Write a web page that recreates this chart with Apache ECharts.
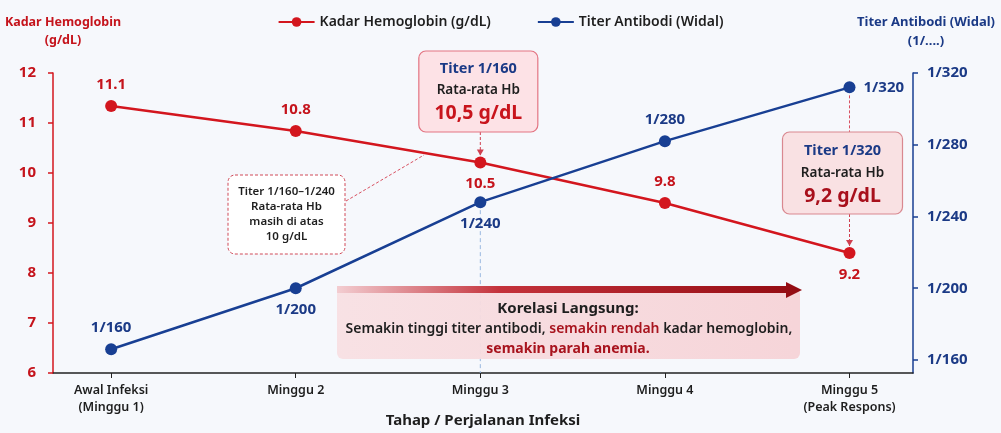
<!DOCTYPE html>
<html><head><meta charset="utf-8">
<script src="https://cdn.jsdelivr.net/npm/echarts@6/dist/echarts.min.js"></script>
<style>html,body{margin:0;padding:0;background:#f6f8fc}#c{width:1001px;height:433px}</style>
</head><body><div id="c"></div>
<script>
// ---- data ----
const categories = ['Awal Infeksi\n(Minggu 1)', 'Minggu 2', 'Minggu 3', 'Minggu 4', 'Minggu 5\n(Peak Respons)'];
const hbValues = [11.34, 10.84, 10.21, 9.40, 8.40];
const hbLabels = ['11.1', '10.8', '10.5', '9.8', '9.2'];
const titerValues = [166, 200, 248, 282, 312];
const titerLabels = ['1/160', '1/200', '1/240', '1/280', '1/320'];
const titerTicks = [160, 200, 240, 280, 320];
const titerTickLabels = ['1/160', '1/200', '1/240', '1/280', '1/320'];
const catTicks = [0, 1, 2, 3, 4];

const FONT = '"Noto Sans", "DejaVu Sans", sans-serif';
const RED = '#d3161e', RED_T = '#c5141c', NAVY = '#183f93', NAVY_T = '#1b3a86', DARK = '#1e1e1e';

const hbLabelPos = ['top', 'top', 'bottom', 'top', 'bottom'];
const tiLabelPos = ['top', 'bottom', 'bottom', 'top', 'right'];

const chart = echarts.init(document.getElementById('c'), null, {renderer: 'canvas'});
const option = {
  backgroundColor: '#f6f8fc',
  animation: false,
  textStyle: {fontFamily: FONT},
  legend: {
    top: 10, left: 'center', itemWidth: 36, itemHeight: 12, itemGap: 46,
    textStyle: {fontSize: 14, fontWeight: 600, color: DARK, fontFamily: FONT},
    data: ['Kadar Hemoglobin (g/dL)', 'Titer Antibodi (Widal)']
  },
  grid: {left: 53, right: 88, top: 73, bottom: 60, containLabel: false, outerBoundsMode: 'none'},
  xAxis: {
    type: 'value', min: -0.315, max: 4.344,
    name: 'Tahap / Perjalanan Infeksi', nameLocation: 'middle', nameGap: 48, nameMoveOverlap: false,
    nameTextStyle: {fontSize: 15, fontWeight: 700, color: DARK, fontFamily: FONT, verticalAlign: 'middle'},
    axisLine: {show: true, onZero: false, lineStyle: {color: '#222', width: 1.5}},
    axisTick: {show: true, customValues: catTicks, length: 5, lineStyle: {color: '#222'}},
    axisLabel: {customValues: catTicks, formatter: v => categories[Math.round(v)], margin: 9,
      fontSize: 12.5, fontWeight: 600, color: DARK, lineHeight: 17, fontFamily: FONT},
    splitLine: {show: false}
  },
  yAxis: [{
    type: 'value', min: 6, max: 12, interval: 1, position: 'left',
    axisLine: {show: true, onZero: false, lineStyle: {color: RED, width: 1.5}},
    axisTick: {show: true, length: 5, lineStyle: {color: RED, width: 1.5}},
    axisLabel: {fontSize: 15, fontWeight: 700, color: RED_T, margin: 17, fontFamily: FONT},
    splitLine: {show: false}
  }, {
    type: 'value', min: 152.75, max: 320, position: 'right',
    axisLine: {show: true, onZero: false, lineStyle: {color: NAVY, width: 1.5}},
    axisTick: {show: true, customValues: titerTicks, length: 5, lineStyle: {color: NAVY, width: 1.5}},
    axisLabel: {customValues: titerTicks, formatter: v => titerTickLabels[titerTicks.indexOf(v)] || '',
      fontSize: 15, fontWeight: 700, color: NAVY_T, margin: 14, fontFamily: FONT},
    splitLine: {show: false}
  }],
  series: [{
    name: 'Kadar Hemoglobin (g/dL)', type: 'line', yAxisIndex: 0,
    symbol: 'circle', symbolSize: 12, z: 3,
    lineStyle: {color: RED, width: 2.5}, itemStyle: {color: RED},
    data: hbValues.map((v, i) => ({value: [i, v], label: {position: hbLabelPos[i]}})),
    label: {show: true, formatter: p => hbLabels[p.dataIndex], distance: 8,
      fontSize: 15, fontWeight: 700, color: RED_T, fontFamily: FONT}
  }, {
    name: 'Titer Antibodi (Widal)', type: 'line', yAxisIndex: 1,
    symbol: 'circle', symbolSize: 12, z: 3,
    lineStyle: {color: NAVY, width: 2.5}, itemStyle: {color: NAVY},
    data: titerValues.map((v, i) => ({value: [i, v], label: {position: tiLabelPos[i]}})),
    label: {show: true, formatter: p => titerLabels[p.dataIndex], distance: 8,
      fontSize: 15, fontWeight: 700, color: NAVY_T, fontFamily: FONT}
  }]
};
chart.setOption(option);

// ---- annotations, anchored on the library's scales ----
const px = (s, i, v) => chart.convertToPixel({seriesIndex: s}, [i, v]);
const p3 = px(0, 2, hbValues[2]), p5 = px(0, 4, hbValues[4]);
const b3 = px(1, 2, titerValues[2]), b5 = px(1, 4, titerValues[4]);
const yBottom = px(0, 0, 6)[1];

function txt(x, y, text, size, weight, color, extra) {
  return Object.assign({type: 'text', z: 110, style: {x, y, text, fill: color, align: 'center', verticalAlign: 'middle',
    font: `${weight} ${size}px ${FONT}`}}, extra || {});
}
function dashV(x, y1, y2, color, arrow) {
  const els = [{type: 'line', z: 90, shape: {x1: x, y1, x2: x, y2}, style: {stroke: color, lineWidth: 1, lineDash: [3, 2]}}];
  if (arrow) els.push({type: 'polygon', z: 90, shape: {points: [[x - 3.5, y2 - 6], [x + 3.5, y2 - 6], [x, y2]]}, style: {fill: color}});
  return els;
}

const aX = p3[0] - 2, aW = 119, aTop = 51, aH = 81;
const bX = p5[0] - 7, bW = 120, bTop = 132, bH = 82;

const graphics = [
  // axis titles
  txt(63, 22, 'Kadar Hemoglobin', 12.5, 700, RED_T),
  txt(63, 40, '(g/dL)', 12.5, 700, RED_T),
  txt(926, 22, 'Titer Antibodi (Widal)', 13, 700, NAVY_T),
  txt(926, 41, '(1/....)', 13, 700, NAVY_T),

  // blue dashed drop line at Minggu 3
  {type: 'line', z: 1, shape: {x1: b3[0], y1: b3[1] + 8, x2: b3[0], y2: yBottom}, style: {stroke: '#9ab8e0', lineWidth: 1, lineDash: [4, 3]}},

  // callout A
  {type: 'rect', z: 100, shape: {x: aX - aW / 2, y: aTop, width: aW, height: aH, r: 7}, style: {fill: '#fde2e6', stroke: '#e37482', lineWidth: 1.2}},
  txt(aX, aTop + 18, 'Titer 1/160', 14.5, 700, NAVY_T),
  txt(aX, aTop + 39, 'Rata-rata Hb', 13.5, 600, DARK),
  txt(aX, aTop + 62, '10,5 g/dL', 19.5, 700, '#c8141c'),
  ...dashV(p3[0], aTop + aH, p3[1] - 7, '#d04050', true),

  // callout B
  {type: 'rect', z: 100, shape: {x: bX - bW / 2, y: bTop, width: bW, height: bH, r: 7}, style: {fill: '#f9e1e3', stroke: '#d98890', lineWidth: 1.2}},
  txt(bX, bTop + 19, 'Titer 1/320', 14.5, 700, NAVY_T),
  txt(bX, bTop + 41, 'Rata-rata Hb', 13.5, 600, DARK),
  txt(bX, bTop + 64, '9,2 g/dL', 19.5, 700, '#a8101c'),
  ...dashV(p5[0], b5[1] + 8, bTop, '#d85060', false),
  ...dashV(p5[0], bTop + bH, p5[1] - 7, '#d04050', true),

  // dashed note box
  {type: 'line', z: 90, shape: {x1: 346, y1: 201, x2: 424, y2: 155}, style: {stroke: '#d85060', lineWidth: 1, lineDash: [3, 2]}},
  {type: 'rect', z: 100, shape: {x: 228, y: 175, width: 117, height: 79, r: 7}, style: {fill: '#ffffff', stroke: '#d04a58', lineWidth: 1, lineDash: [3, 2]}},
  txt(286.5, 192, 'Titer 1/160–1/240', 11.5, 600, DARK),
  txt(286.5, 207, 'Rata-rata Hb', 11.5, 600, DARK),
  txt(286.5, 222, 'masih di atas', 11.5, 600, DARK),
  txt(286.5, 237, '10 g/dL', 11.5, 600, DARK),

  // correlation box
  {type: 'rect', z: 95, shape: {x: 337, y: 288, width: 463, height: 71, r: 6},
    style: {fill: new echarts.graphic.LinearGradient(0, 0, 1, 0, [{offset: 0, color: 'rgba(248,224,227,0.95)'}, {offset: 1, color: 'rgba(246,211,215,0.95)'}])}},
  {type: 'polygon', z: 96, shape: {points: [[337, 286], [786, 286], [786, 282], [802, 290], [786, 298], [786, 293], [337, 293]]},
    style: {fill: new echarts.graphic.LinearGradient(0, 0, 1, 0, [{offset: 0, color: '#f3cdd1'}, {offset: 0.35, color: '#c4323b'}, {offset: 1, color: '#930b12'}])}},
  txt(568, 309, 'Korelasi Langsung:', 15, 700, DARK),
  {type: 'text', z: 110, style: {x: 569, y: 329, align: 'center', verticalAlign: 'middle',
    text: '{a|Semakin tinggi titer antibodi, }{r|semakin rendah}{a| kadar hemoglobin,}',
    rich: {a: {font: `600 14px ${FONT}`, fill: DARK}, r: {font: `600 14px ${FONT}`, fill: '#a8141e'}}}},
  txt(568, 349, 'semakin parah anemia.', 14, 700, '#a8141e')
];
chart.setOption({graphic: {elements: graphics}});
</script>
</body></html>
